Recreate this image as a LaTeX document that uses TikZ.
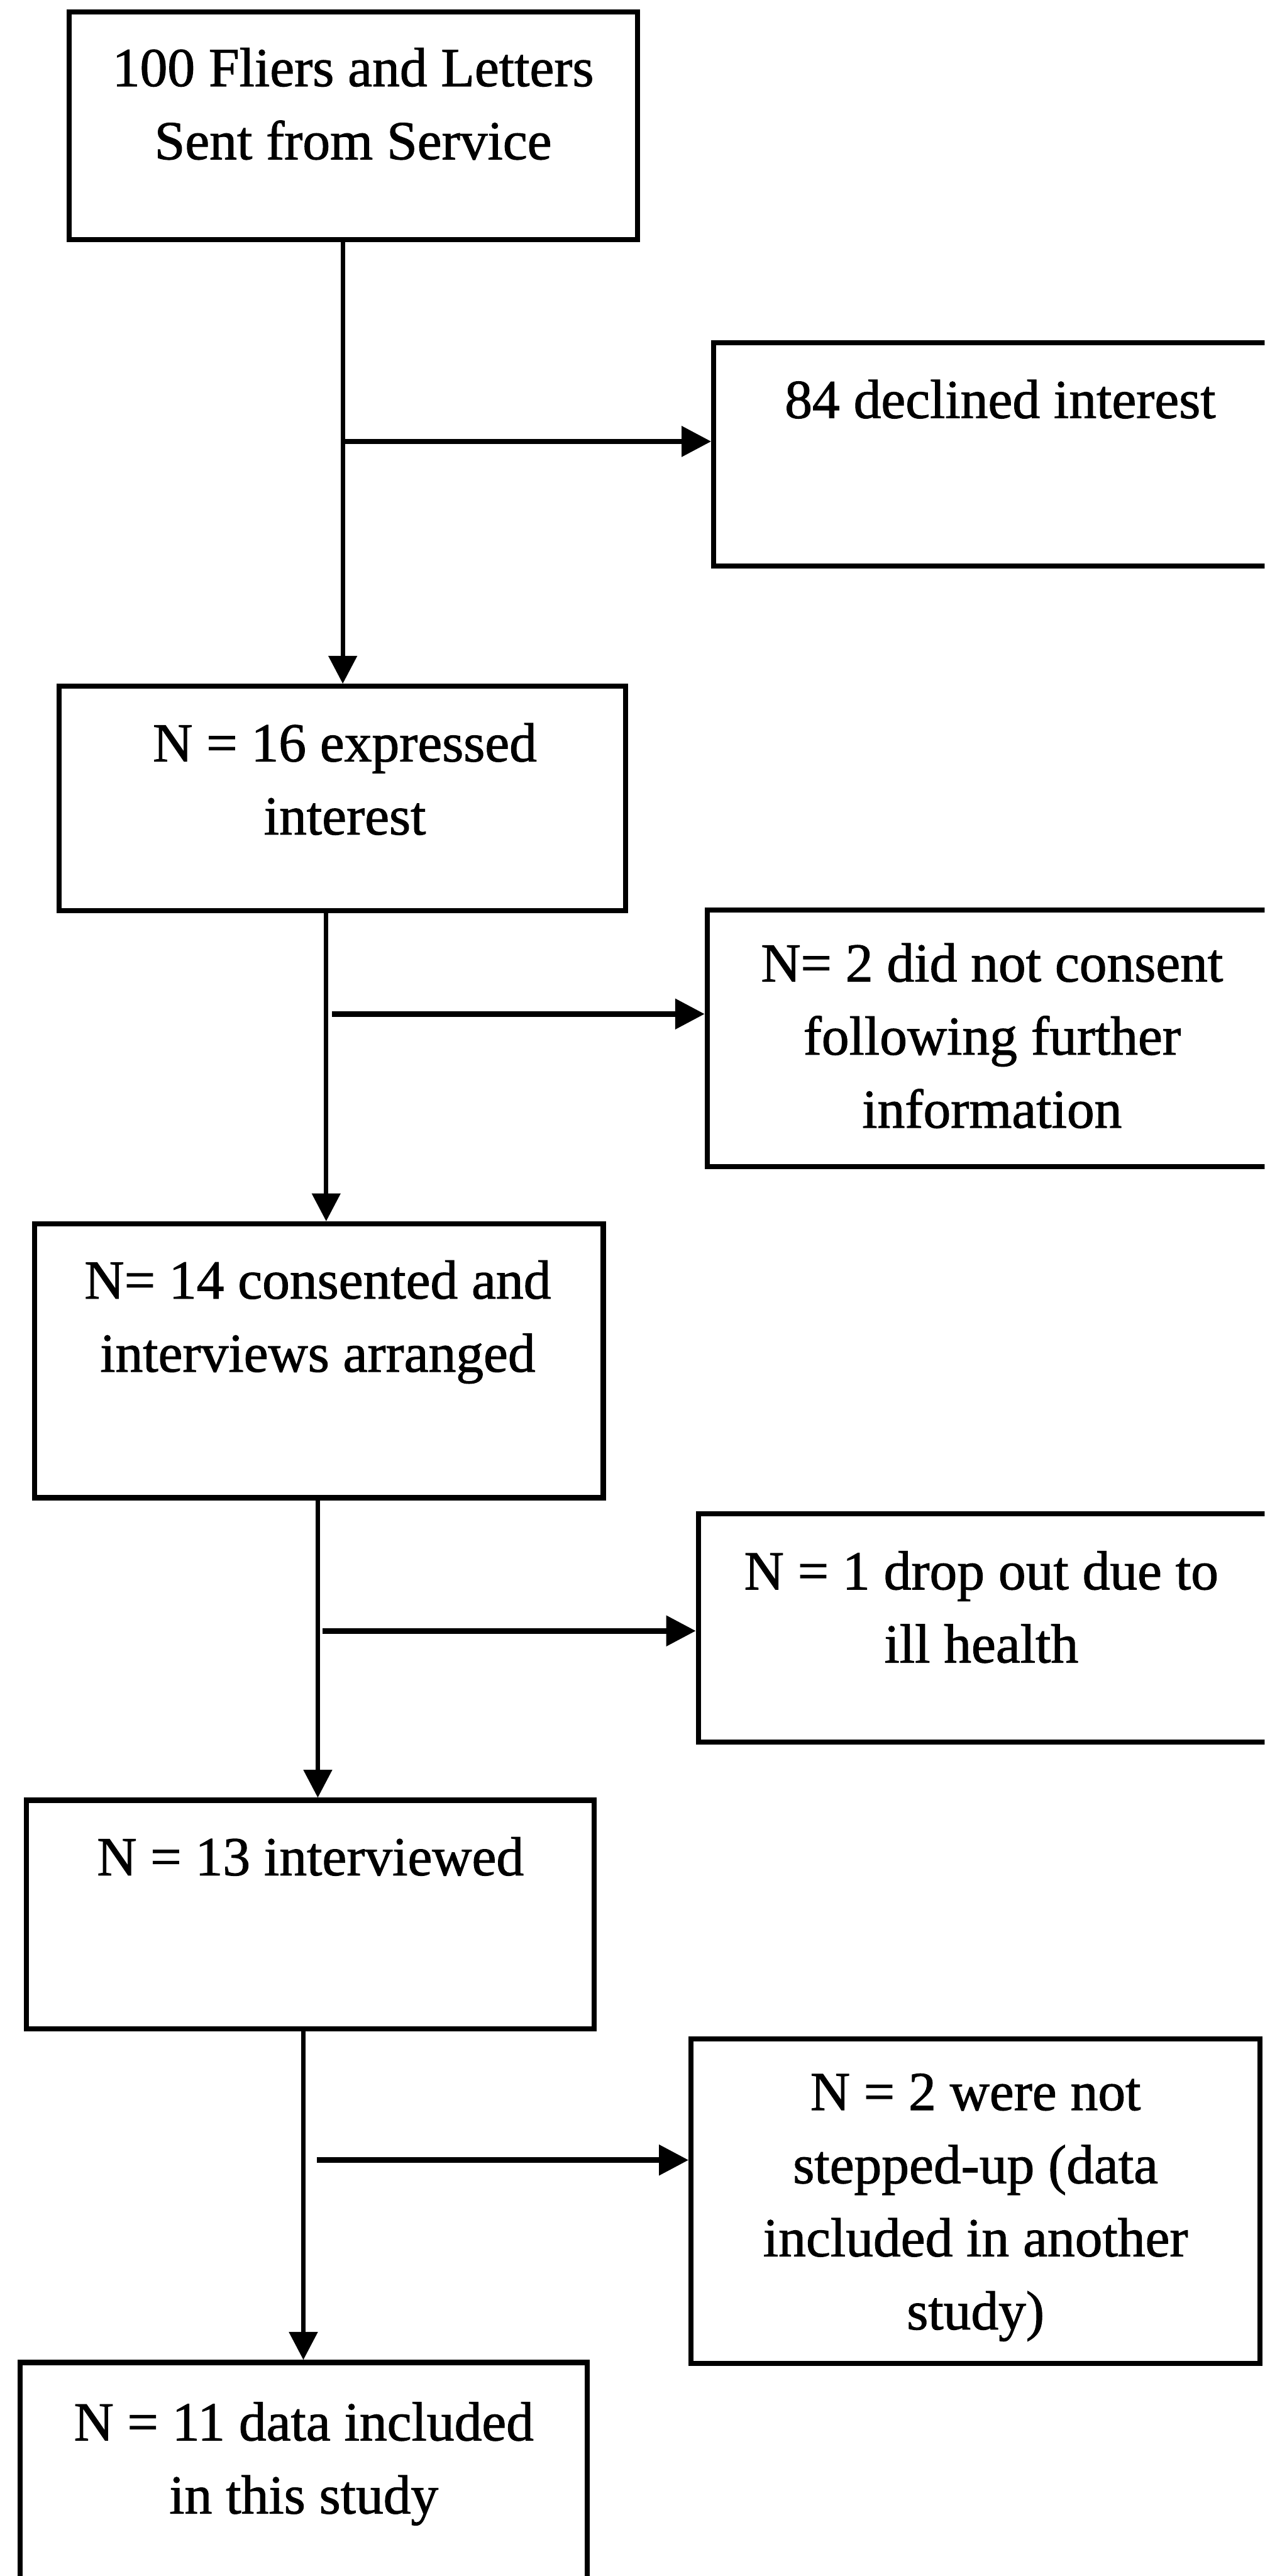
\documentclass[tikz,border=0pt]{standalone}
\usepackage{fontspec}
\setmainfont{Liberation Serif}[FakeBold=1.2]
\usetikzlibrary{arrows.meta}
\begin{document}
\begin{tikzpicture}[x=1pt,y=-1pt,
  box/.style={draw, line width=3.1pt, inner sep=0pt, rectangle},
  txt/.style={anchor=north, align=center, inner sep=0pt, font=\fontsize{33.5}{44.5}\selectfont},
  varr/.style={line width=2.7pt, -{Triangle[length=17pt,width=17pt]}},
  harr/.style={line width=3.3pt, -{Triangle[length=18pt,width=18pt]}}]
\useasboundingbox (0,0) rectangle (770,1568);
\clip (0,0) rectangle (770,1568);
% boxes
\node[box, minimum width=346pt,   minimum height=138.5pt] (b1) at (215,76.5) {};
\node[box, minimum width=348.4pt, minimum height=135.8pt] (b2) at (608.8,276.5) {};
\node[box, minimum width=345pt,   minimum height=136.5pt] (b3) at (208.5,486) {};
\node[box, minimum width=346.4pt, minimum height=156pt]   (b4) at (603.8,632) {};
\node[box, minimum width=346.2pt, minimum height=166.7pt] (b5) at (194.2,828.3) {};
\node[box, minimum width=346.8pt, minimum height=139pt]   (b6) at (598.6,991) {};
\node[box, minimum width=345.7pt, minimum height=139pt]   (b7) at (189,1165.3) {};
\node[box, minimum width=346.2pt, minimum height=197.4pt] (b8) at (593.9,1339.9) {};
\node[box, minimum width=345.2pt, minimum height=137pt]   (b9) at (184.9,1506.5) {};
% texts
\node[txt] (t1) at (215,29) {100 Fliers and Letters\\Sent from Service};
\node[txt] (t2) at (609,231) {84 declined interest};
\node[txt] (t3) at (210,440) {N = 16 expressed\\interest};
\node[txt] (t4) at (604,574) {N= 2 did not consent\\following further\\information};
\node[txt] (t5) at (193.5,767) {N= 14 consented and\\interviews arranged};
\node[txt] (t6) at (597.5,944) {N = 1 drop out due to\\ill health};
\node[txt] (t7) at (189,1118) {N = 13 interviewed};
\node[txt] (t8) at (594,1262) {N = 2 were not\\stepped-up (data\\included in another\\study)};
\node[txt] (t9) at (185,1462) {N = 11 data included\\in this study};
% connector coordinates
\coordinate (v1) at (208.7,0);
\coordinate (s1) at (208.7,268.7);
\coordinate (v2) at (198.6,0);
\coordinate (s2) at (202.3,617.2);
\coordinate (v3) at (193.5,0);
\coordinate (s3) at (196.4,992.7);
\coordinate (v4) at (184.7,0);
\coordinate (s4) at (193,1314.8);
% connectors
\draw[varr] (v1 |- b1.south) -- (v1 |- b3.north);
\draw[harr] (s1) -- (s1 -| b2.west);
\draw[varr] (v2 |- b3.south) -- (v2 |- b5.north);
\draw[harr] (s2) -- (s2 -| b4.west);
\draw[varr] (v3 |- b5.south) -- (v3 |- b7.north);
\draw[harr] (s3) -- (s3 -| b6.west);
\draw[varr] (v4 |- b7.south) -- (v4 |- b9.north);
\draw[harr] (s4) -- (s4 -| b8.west);
\end{tikzpicture}
\end{document}
